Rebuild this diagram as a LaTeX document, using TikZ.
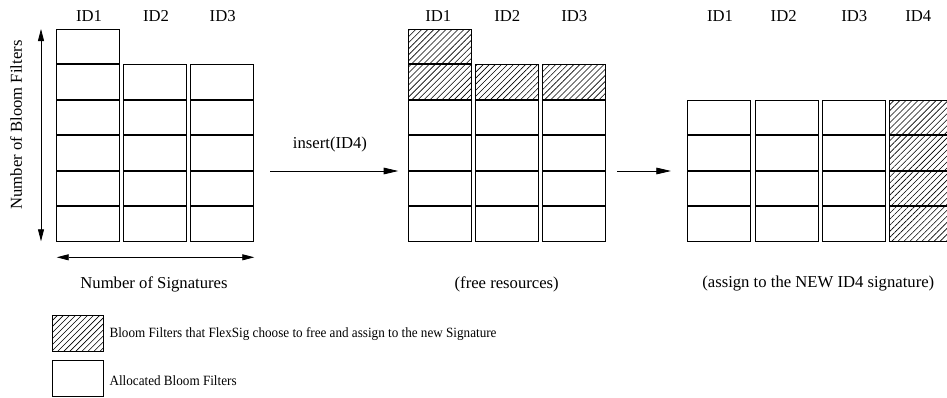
\documentclass[tikz,border=0pt]{standalone}
\usepackage{fontspec}
\setmainfont{Liberation Serif}
\usetikzlibrary{arrows.meta,patterns.meta}
\tikzset{
  cell/.style={draw, line width=0.6pt, inner sep=0pt, minimum width=47.25pt, minimum height=25.95pt},
  freed/.style={cell, pattern={Lines[angle=45, distance=3.2pt, line width=0.45pt]}},
  idlabel/.style={font=\fontsize{12.5}{15}\selectfont, inner sep=0pt},
  caption/.style={font=\fontsize{12.5}{15}\selectfont, inner sep=0pt},
  legendtext/.style={font=\fontsize{10.6}{13}\selectfont, inner sep=0pt, anchor=west},
  flow/.style={line width=0.6pt, -{Triangle[length=11pt, width=5pt]}},
  axis/.style={line width=0.6pt, {Triangle[length=9pt, width=4.5pt]}-{Triangle[length=9pt, width=4.5pt]}},
}
\newcommand{\narrow}[1]{\scalebox{0.93}[1]{#1}}
\begin{document}
\begin{tikzpicture}[x=0.75pt, y=-0.75pt]
\useasboundingbox (0,0) rectangle (947,397);
\clip (0,0) rectangle (947,397);

% ---------- left: initial allocation ----------
\foreach \r/\y in {1/46.4, 2/81.9, 3/117.3, 4/152.8, 5/188.2, 6/223.6}
  \node[cell] (a1r\r) at (88.2,\y) {};
\foreach \c/\x in {2/155.2, 3/222.2}
  \foreach \r/\y in {2/81.9, 3/117.3, 4/152.8, 5/188.2, 6/223.6}
    \node[cell] (a\c r\r) at (\x,\y) {};
\node[idlabel] (aid1) at (89,15.7) {ID1};
\node[idlabel] (aid2) at (156,15.7) {ID2};
\node[idlabel] (aid3) at (222.7,15.7) {ID3};

\coordinate (vtop) at (41,29);
\coordinate (vbot) at (41,241.3);
\draw[axis] (vtop) -- (vbot);
\node[caption, rotate=90] (ylab) at (16,125) {Number of Bloom Filters};

\coordinate (hl) at (56.7,257.3);
\coordinate (hr) at (254.3,257.3);
\draw[axis] (hl) -- (hr);
\node[caption] (xlab) at (154,284) {Number of Signatures};

% ---------- middle: freeing resources ----------
\node[freed] (b1r1) at (439.5,46.4) {};
\node[freed] (b1r2) at (439.5,81.9) {};
\node[freed] (b2r2) at (506.7,81.9) {};
\node[freed] (b3r2) at (573.8,81.9) {};
\foreach \c/\x in {1/439.5, 2/506.7, 3/573.8}
  \foreach \r/\y in {3/117.3, 4/152.8, 5/188.2, 6/223.6}
    \node[cell] (b\c r\r) at (\x,\y) {};
\node[idlabel] (bid1) at (438.3,15.7) {ID1};
\node[idlabel] (bid2) at (507.3,15.7) {ID2};
\node[idlabel] (bid3) at (574.3,15.7) {ID3};
\node[caption] (bcap) at (506.7,284) {(free resources)};

\coordinate (ins) at (270,171);
\coordinate (insend) at (398.3,171);
\draw[flow] (ins) -- (insend);
\node[caption] (inslab) at (330,144) {insert(ID4)};

% ---------- right: new signature ----------
\foreach \c/\x in {1/719.3, 2/786.7, 3/854}
  \foreach \r/\y in {3/117.3, 4/152.8, 5/188.2, 6/223.6}
    \node[cell] (c\c r\r) at (\x,\y) {};
\foreach \r/\y in {3/117.3, 4/152.8, 5/188.2, 6/223.6}
  \node[freed] (c4r\r) at (921,\y) {};
\node[idlabel] (cid1) at (720,15.7) {ID1};
\node[idlabel] (cid2) at (783.7,15.7) {ID2};
\node[idlabel] (cid3) at (854.3,15.7) {ID3};
\node[idlabel] (cid4) at (918.3,15.7) {ID4};
\node[caption] (ccap) at (818.3,284) {(assign to the NEW ID4 signature)};

\coordinate (asg) at (617.3,171);
\coordinate (asgend) at (671,171);
\draw[flow] (asg) -- (asgend);

% ---------- legend ----------
\node[freed, minimum width=38pt, minimum height=27.5pt] (keyfree) at (78,333.4) {};
\node[cell, minimum width=38pt, minimum height=27pt] (keyalloc) at (78,378) {};
\node[legendtext] (keyfreetxt) at (109.3,334) {\narrow{Bloom Filters that FlexSig choose to free and assign to the new Signature}};
\node[legendtext] (keyalloctxt) at (109.3,380.7) {\narrow{Allocated Bloom Filters}};
\end{tikzpicture}
\end{document}
